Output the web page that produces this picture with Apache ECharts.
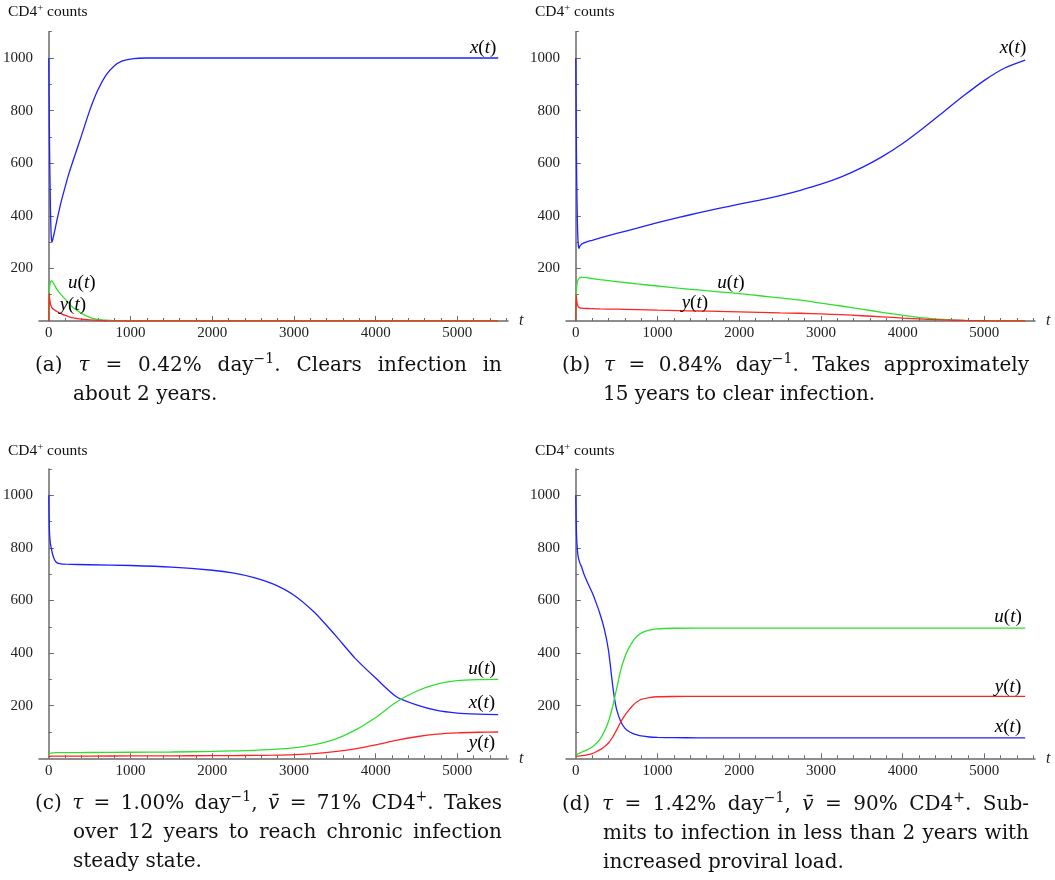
<!DOCTYPE html>
<html>
<head>
<meta charset="utf-8">
<title>CD4+ counts under four treatment rates</title>
<script src="https://cdn.jsdelivr.net/npm/echarts@6.0.0/dist/echarts.min.js"></script>
<style>
  html, body { margin: 0; padding: 0; background: #ffffff; }
  #chart { width: 1055px; height: 880px; }
</style>
</head>
<body>
<div id="chart"></div>
<script>
// ---------- data: time (days) and the three populations per scenario ----------
// (a) tau = 0.42 %/day
const T_A = [0, 4, 10, 20, 30, 40, 50, 70, 100, 150, 200, 250, 300, 400, 500, 600, 700, 800, 900, 1000, 1100, 1200, 1500, 2000, 3000, 4000, 5000, 5500];
const X_A = [1000, 850, 640, 430, 320, 300, 312, 340, 384, 452, 510, 565, 612, 705, 800, 878, 935, 970, 989, 996, 999, 1000, 1000, 1000, 1000, 1000, 1000, 1000];
const U_A = [0, 90, 130, 148, 152, 152, 148, 137, 120, 100, 83, 66, 50, 29, 14, 6, 3, 1, 0.5, 0, 0, 0, 0, 0, 0, 0, 0, 0];
const Y_A = [0, 105, 85, 65, 55, 50, 47, 42, 36, 28, 21, 16, 12, 7, 4, 2, 1, 0.5, 0, 0, 0, 0, 0, 0, 0, 0, 0, 0];

// (b) tau = 0.84 %/day
const T_B = [0, 4, 10, 20, 30, 40, 50, 70, 100, 150, 200, 300, 500, 750, 1000, 1250, 1500, 1750, 2000, 2250, 2500, 2750, 3000, 3250, 3500, 3750, 4000, 4250, 4500, 4750, 5000, 5250, 5500];
const X_B = [1000, 800, 560, 370, 290, 276, 285, 292, 297, 303, 307, 316, 333, 353, 374, 393, 411, 428, 444, 460, 477, 497, 520, 548, 583, 625, 675, 733, 795, 857, 915, 962, 992];
const U_B = [0, 80, 130, 150, 158, 162, 165, 167, 166, 164, 161, 157, 150, 141, 133, 125, 118, 111, 104, 96, 88, 79, 68, 57, 45, 33, 22, 12, 6, 2, 0.5, 0, 0];
const Y_B = [0, 100, 80, 62, 55, 52, 50, 49, 48, 47.5, 47, 46, 45, 43, 41, 39.5, 38, 36.5, 35, 33, 31, 29.5, 27, 24, 20, 16, 11, 7, 4, 2, 1, 0, 0];

// (c) tau = 1.00 %/day, v = 71 %
const T_C = [0, 5, 10, 20, 30, 40, 50, 70, 100, 150, 200, 500, 1000, 1500, 2000, 2250, 2500, 2750, 3000, 3250, 3500, 3750, 4000, 4250, 4500, 4750, 5000, 5250, 5500];
const X_C = [1000, 900, 850, 815, 800, 785, 772, 755, 743, 739, 738, 736, 733, 727, 715, 705, 688, 662, 620, 555, 470, 380, 305, 235, 203, 182, 172, 168, 166];
const U_C = [12, 15, 17, 19, 20, 20.5, 21, 21, 21.5, 21.5, 21.5, 22, 23, 24, 26, 28, 30, 34, 40, 52, 72, 107, 155, 213, 255, 282, 295, 299, 300];
const Y_C = [5, 6, 7, 7.5, 8, 8, 8, 8, 8, 8, 8, 8.5, 9, 9.5, 10, 10.5, 11, 12, 14, 18, 25, 36, 51, 68, 82, 92, 97, 99, 100];

// (d) tau = 1.42 %/day, v = 90 %
const T_D = [0, 5, 10, 20, 30, 50, 70, 100, 150, 200, 250, 300, 350, 400, 450, 475, 500, 550, 600, 650, 700, 750, 800, 900, 1000, 1200, 1500, 2000, 3000, 4000, 5000, 5500];
const X_D = [1000, 900, 840, 790, 765, 742, 728, 700, 664, 630, 590, 545, 490, 410, 280, 225, 185, 140, 115, 102, 94, 89, 85, 81, 79.5, 78.5, 78, 78, 78, 78, 78, 78];
const U_D = [12, 13, 14, 16, 18, 20, 23, 27, 34, 43, 56, 75, 103, 140, 195, 230, 265, 335, 385, 420, 446, 464, 476, 487, 492, 494.5, 495, 495, 495, 495, 495, 495];
const Y_D = [8, 8, 8, 8.5, 8.5, 9, 10, 11, 14, 18, 25, 33, 44, 58, 80, 94, 108, 138, 163, 184, 202, 215, 224, 231, 234, 235, 235.5, 235.5, 235.5, 235.5, 235.5, 235.5];

// ---------- ticks ----------
const X_TICK_LABELS = [0, 1000, 2000, 3000, 4000, 5000];
const X_MAJOR_TICKS = [1000, 2000, 3000, 4000, 5000];
const X_MINOR_TICKS = [200, 400, 600, 800, 1200, 1400, 1600, 1800, 2200, 2400, 2600, 2800, 3200, 3400, 3600, 3800, 4200, 4400, 4600, 4800, 5200, 5400, 5600];
const Y_TICK_LABELS = [200, 400, 600, 800, 1000];
const Y_MINOR_TICKS = [100, 300, 500, 700, 900, 1100];

// ---------- styling ----------
const TICK_FONT = 'Liberation Serif';
const CAP_FAMILY = '"DejaVu Serif", serif';
const AXIS_GRAY = '#6a6a6a';
const COL_X = '#2020ff', COL_U = '#2ee02e', COL_Y = '#ff2424';

const panels = [
  { t: T_A, x: X_A, u: U_A, y: Y_A, left: 39, top: 31.7,
    labels: { x: [5315, 1037], u: [404, 144], y: [294, 61] } },
  { t: T_B, x: X_B, u: U_B, y: Y_B, left: 566, top: 31.7,
    labels: { x: [5351, 1037], u: [1898, 144], y: [1457, 68] } },
  { t: T_C, x: X_C, u: U_C, y: Y_C, left: 39, top: 469,
    labels: { u: [5302, 339], x: [5302, 210], y: [5302, 58] } },
  { t: T_D, x: X_D, u: U_D, y: Y_D, left: 566, top: 469,
    labels: { u: [5290, 537], y: [5290, 272], x: [5290, 119] } }
];

const GRID_W = 469, GRID_H = 289.3;

const grid = [], xAxis = [], yAxis = [], series = [];
const plainNumber = v => String(v);

function curveLabel(name, coord) {
  return {
    symbol: 'circle', symbolSize: 0, silent: true, animation: false,
    label: {
      show: true, position: 'inside',
      formatter: '{i|' + name + '}{r|(}{i|t}{r|)}',
      rich: {
        i: { fontFamily: TICK_FONT, fontStyle: 'italic', fontSize: 19, color: '#000' },
        r: { fontFamily: TICK_FONT, fontSize: 19, color: '#000' }
      }
    },
    data: [{ coord: coord }]
  };
}

panels.forEach((p, gi) => {
  grid.push({ left: p.left, top: p.top, width: GRID_W, height: GRID_H });
  const xMain = xAxis.length;
  xAxis.push({
    type: 'value', gridIndex: gi, min: -120, max: 5620, position: 'bottom',
    axisLine: { onZero: false, lineStyle: { color: AXIS_GRAY, width: 1.5 } },
    axisTick: { show: true, inside: true, length: 5, customValues: X_MAJOR_TICKS, lineStyle: { color: AXIS_GRAY, width: 1 } },
    axisLabel: { customValues: X_TICK_LABELS, formatter: plainNumber, margin: 5, color: '#222', fontFamily: TICK_FONT, fontSize: 15 },
    splitLine: { show: false },
    name: 't', nameLocation: 'end', nameGap: 11,
    nameTextStyle: { fontFamily: TICK_FONT, fontStyle: 'italic', fontSize: 16, color: '#222' }
  });
  xAxis.push({
    type: 'value', gridIndex: gi, min: -120, max: 5620, position: 'bottom',
    axisLine: { onZero: false, lineStyle: { opacity: 0 } },
    axisTick: { show: true, inside: true, length: 3, customValues: X_MINOR_TICKS, lineStyle: { color: AXIS_GRAY, width: 1 } },
    axisLabel: { show: false },
    splitLine: { show: false }
  });
  const yMain = yAxis.length;
  yAxis.push({
    type: 'value', gridIndex: gi, min: 0, max: 1100, position: 'left',
    axisLine: { show: true, onZero: true, onZeroAxisIndex: xMain, lineStyle: { color: AXIS_GRAY, width: 1.5 } },
    axisTick: { show: true, inside: true, length: 5, customValues: Y_TICK_LABELS, lineStyle: { color: AXIS_GRAY, width: 1 } },
    axisLabel: { customValues: Y_TICK_LABELS, formatter: plainNumber, margin: 6, color: '#222', fontFamily: TICK_FONT, fontSize: 15 },
    splitLine: { show: false }
  });
  yAxis.push({
    type: 'value', gridIndex: gi, min: 0, max: 1100, position: 'left',
    axisLine: { show: true, onZero: true, onZeroAxisIndex: xMain, lineStyle: { opacity: 0 } },
    axisTick: { show: true, inside: true, length: 3, customValues: Y_MINOR_TICKS, lineStyle: { color: AXIS_GRAY, width: 1 } },
    axisLabel: { show: false },
    splitLine: { show: false }
  });

  const defs = [['x', p.x, COL_X], ['u', p.u, COL_U], ['y', p.y, COL_Y]];
  defs.forEach(([name, vals, col]) => {
    series.push({
      type: 'line', xAxisIndex: xMain, yAxisIndex: yMain,
      data: p.t.map((t, i) => [t, vals[i]]),
      showSymbol: false, symbol: 'none',
      smooth: 0.25,
      lineStyle: { color: col, width: 1.3 },
      itemStyle: { color: col },
      markPoint: curveLabel(name, p.labels[name])
    });
  });
});

// ---------- text set outside the plot areas ----------
const measureCtx = document.createElement('canvas').getContext('2d');
function measure(font, text) { measureCtx.font = font; return measureCtx.measureText(text).width; }

const CAP_FONTS = {
  n: '20px ' + CAP_FAMILY,
  i: 'italic 20px ' + CAP_FAMILY,
  sup: '14px ' + CAP_FAMILY
};
const SUP_RAISE = -7;

function segsOf(word) { return typeof word === 'string' ? [['n', word]] : word; }
function wordWidth(word) {
  return segsOf(word).reduce((s, sg) => s + measure(CAP_FONTS[sg[0]], sg[1]), 0);
}

const graphics = [];
function placeLine(words, x0, x1, y, justify) {
  const widths = words.map(wordWidth);
  const total = widths.reduce((a, b) => a + b, 0);
  const gap = justify && words.length > 1
    ? (x1 - x0 - total) / (words.length - 1)
    : measure(CAP_FONTS.n, ' ');
  let x = x0;
  words.forEach((w, wi) => {
    let cx = x;
    segsOf(w).forEach(([st, txt]) => {
      graphics.push({
        type: 'text', x: cx, y: y + (st === 'sup' ? SUP_RAISE : 0), silent: true,
        style: { text: txt, font: CAP_FONTS[st], fill: '#111',
                 align: 'left', verticalAlign: 'middle', textAlign: 'left', textVerticalAlign: 'middle' }
      });
      cx += measure(CAP_FONTS[st], txt);
    });
    x += widths[wi] + gap;
  });
}

const TAU = [['i', '\u03c4']];
const VBAR = [['i', 'v\u0304']];
const PER_DAY_DOT = [['n', 'day'], ['sup', '\u22121'], ['n', '.']];
const PER_DAY_COMMA = [['n', 'day'], ['sup', '\u22121'], ['n', ',']];
const CD4_DOT = [['n', 'CD4'], ['sup', '+'], ['n', '.']];

const captions = [
  { x0: 35, x1: 502, indent: 73, y: 366, lines: [
      ['(a)', TAU, '=', '0.42%', PER_DAY_DOT, 'Clears', 'infection', 'in'],
      ['about', '2', 'years.'] ] },
  { x0: 562, x1: 1029, indent: 603, y: 366, lines: [
      ['(b)', TAU, '=', '0.84%', PER_DAY_DOT, 'Takes', 'approximately'],
      ['15', 'years', 'to', 'clear', 'infection.'] ] },
  { x0: 35, x1: 502, indent: 73, y: 804, lines: [
      ['(c)', TAU, '=', '1.00%', PER_DAY_COMMA, VBAR, '=', '71%', CD4_DOT, 'Takes'],
      ['over', '12', 'years', 'to', 'reach', 'chronic', 'infection'],
      ['steady', 'state.'] ] },
  { x0: 562, x1: 1029, indent: 603, y: 805, lines: [
      ['(d)', TAU, '=', '1.42%', PER_DAY_COMMA, VBAR, '=', '90%', CD4_DOT, 'Sub-'],
      ['mits', 'to', 'infection', 'in', 'less', 'than', '2', 'years', 'with'],
      ['increased', 'proviral', 'load.'] ] }
];
const CAP_LEAD = 29;
captions.forEach(c => {
  c.lines.forEach((ln, li) => {
    const last = li === c.lines.length - 1;
    placeLine(ln, li === 0 ? c.x0 : c.indent, c.x1, c.y + li * CAP_LEAD, !last);
  });
});

// y-axis titles
const AX_FONT = '15.5px "Liberation Serif", serif';
const AX_SUP_FONT = '10.5px "Liberation Serif", serif';
[[8, 12], [535, 12], [8, 451], [535, 451]].forEach(([x, y]) => {
  const parts = [[AX_FONT, 'CD4', 0], [AX_SUP_FONT, '+', -4], [AX_FONT, ' counts', 0]];
  let cx = x;
  parts.forEach(([f, txt, dy]) => {
    graphics.push({
      type: 'text', x: cx, y: y + dy, silent: true,
      style: { text: txt, font: f, fill: '#111', align: 'left', verticalAlign: 'middle',
               textAlign: 'left', textVerticalAlign: 'middle' }
    });
    cx += measure(f, txt);
  });
});

const chart = echarts.init(document.getElementById('chart'), null, { renderer: 'canvas' });
chart.setOption({
  backgroundColor: '#ffffff',
  animation: false,
  grid: grid,
  xAxis: xAxis,
  yAxis: yAxis,
  series: series,
  graphic: graphics
});
</script>
</body>
</html>
